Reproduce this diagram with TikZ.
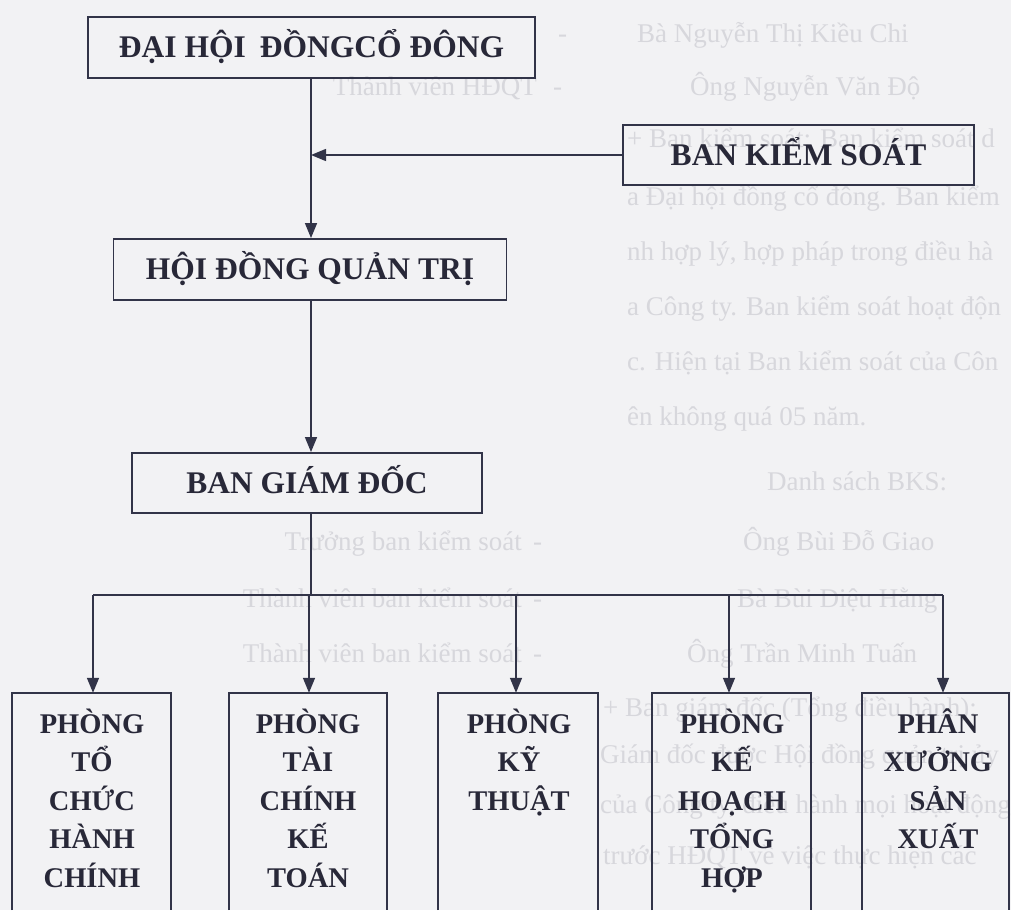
\documentclass[tikz,border=0pt]{standalone}
\usepackage{fontspec}
\setmainfont{Liberation Serif}
\usetikzlibrary{arrows.meta}
\definecolor{bg}{RGB}{242,242,244}
\definecolor{lc}{RGB}{50,52,72}
\definecolor{tc}{RGB}{40,40,56}
\definecolor{fc}{RGB}{215,215,220}
\tikzset{
  topbox/.style={draw=lc, line width=1.9pt, text=tc, inner sep=0pt,
    font=\bfseries\fontsize{31.5}{36}\selectfont, text height=20.6pt, text depth=0pt},
  openbox/.style={draw=none, inner sep=0pt, minimum height=217pt},
  boxline/.style={draw=lc, line width=1.9pt},
  btext/.style={anchor=base, inner sep=0pt, text=tc, font=\bfseries\fontsize{28.5}{38.5}\selectfont},
  arr/.style={draw=lc, line width=1.5pt, -{Triangle[length=15pt,width=12pt]}},
  ln/.style={draw=lc, line width=1.5pt},
  faint/.style={inner sep=0pt, text=fc, font=\fontsize{27}{30}\selectfont},
}
\begin{document}
\begin{tikzpicture}[x=1pt,y=-1pt]
\fill[bg] (0,0) rectangle (1011,910);
\useasboundingbox (0,0) rectangle (1011,910);

% faint text showing through the page
\begin{scope}
\clip (0,0) rectangle (1011,910);
\node[faint, anchor=base west] (f1b) at (558,42) {-};
\node[faint, anchor=base west] (f1c) at (637,42) {Bà Nguyễn Thị Kiều Chi};
\node[faint, anchor=base east] (f2a) at (537,95) {Thành viên HĐQT};
\node[faint, anchor=base west] (f2b) at (553,95) {-};
\node[faint, anchor=base west] (f2c) at (690,95) {Ông Nguyễn Văn Độ};
\node[faint, anchor=base west] (f3) at (627,147) {+ Ban kiểm soát: Ban kiểm soát d};
\node[faint, anchor=base west] (f4) at (627,205) {a Đại hội đồng cổ đông. Ban kiểm};
\node[faint, anchor=base west] (f5) at (627,260) {nh hợp lý, hợp pháp trong điều hà};
\node[faint, anchor=base west] (f6) at (627,315) {a Công ty. Ban kiểm soát hoạt độn};
\node[faint, anchor=base west] (f7) at (627,370) {c. Hiện tại Ban kiểm soát của Côn};
\node[faint, anchor=base west] (f8) at (627,425) {ên không quá 05 năm.};
\node[faint, anchor=base west] (f9) at (767,490) {Danh sách BKS:};
\node[faint, anchor=base east] (f10a) at (522,550) {Trưởng ban kiểm soát};
\node[faint, anchor=base west] (f10b) at (533,550) {-};
\node[faint, anchor=base west] (f10c) at (743,550) {Ông Bùi Đỗ Giao};
\node[faint, anchor=base east] (f11a) at (522,607) {Thành viên ban kiểm soát};
\node[faint, anchor=base west] (f11b) at (533,607) {-};
\node[faint, anchor=base west] (f11c) at (737,607) {Bà Bùi Diệu Hằng};
\node[faint, anchor=base east] (f12a) at (522,662) {Thành viên ban kiểm soát};
\node[faint, anchor=base west] (f12b) at (533,662) {-};
\node[faint, anchor=base west] (f12c) at (687,662) {Ông Trần Minh Tuấn};
\node[faint, anchor=base west] (f13) at (603,716) {+ Ban giám đốc (Tổng điều hành):};
\node[faint, anchor=base west] (f14) at (600,763) {Giám đốc được Hội đồng quản trị ủy};
\node[faint, anchor=base west] (f15) at (600,813) {của Công ty, điều hành mọi hoạt động};
\node[faint, anchor=base west] (f16) at (603,864) {trước HĐQT về việc thực hiện các};
\end{scope}

% upper boxes
\node[topbox, minimum width=447pt, minimum height=61pt] (dh) at (311.5,47.5) {ĐẠI HỘI\hspace{0.45em}ĐỒNGCỔ ĐÔNG};
\node[topbox, minimum width=351pt, minimum height=60pt] (bks) at (798.5,155) {BAN KIỂM SOÁT};
\node[topbox, minimum width=393pt, minimum height=61pt] (hdqt) at (310,269.5) {HỘI ĐỒNG QUẢN TRỊ};
\node[topbox, minimum width=350pt, minimum height=60pt] (bgd) at (307,483) {BAN GIÁM ĐỐC};

% lower boxes (cut by the lower edge)
\node[openbox, minimum width=159pt] (b1) at (91.5,801.5) {};
\node[openbox, minimum width=158pt] (b2) at (308,801.5) {};
\node[openbox, minimum width=160pt] (b3) at (518,801.5) {};
\node[openbox, minimum width=159pt] (b4) at (731.5,801.5) {};
\node[openbox, minimum width=147pt] (b5) at (935.5,801.5) {};
\foreach \b in {b1,b2,b3,b4,b5}
  \draw[boxline] (\b.south west) -- (\b.north west) -- (\b.north east) -- (\b.south east);

\node[btext] (t1) at (92,733) {\parbox[t]{150pt}{\centering PHÒNG\\TỔ\\CHỨC\\HÀNH\\CHÍNH}};
\node[btext] (t2) at (308,733) {\parbox[t]{150pt}{\centering PHÒNG\\TÀI\\CHÍNH\\KẾ\\TOÁN}};
\node[btext] (t3) at (519,733) {\parbox[t]{150pt}{\centering PHÒNG\\KỸ\\THUẬT}};
\node[btext] (t4) at (732,733) {\parbox[t]{150pt}{\centering PHÒNG\\KẾ\\HOẠCH\\TỔNG\\HỢP}};
\node[btext] (t5) at (938,733) {\parbox[t]{150pt}{\centering PHÂN\\XƯỞNG\\SẢN\\XUẤT}};

% connectors
\coordinate (jn) at (311,595);
\coordinate (d1) at (93,595);
\coordinate (d2) at (309,595);
\coordinate (d3) at (516,595);
\coordinate (d4) at (729,595);
\coordinate (d5) at (943,595);

\draw[arr] (dh.south -| jn) -- (hdqt.north -| jn);
\draw[arr] (bks.west) -- (bks.west -| jn);
\draw[arr] (hdqt.south -| jn) -- (bgd.north -| jn);
\draw[ln] (bgd.south -| jn) -- (jn);
\draw[ln] (d1) -- (d5);
\draw[arr] (d1) -- (d1 |- b1.north);
\draw[arr] (d2) -- (d2 |- b2.north);
\draw[arr] (d3) -- (d3 |- b3.north);
\draw[arr] (d4) -- (d4 |- b4.north);
\draw[arr] (d5) -- (d5 |- b5.north);
\end{tikzpicture}
\end{document}
